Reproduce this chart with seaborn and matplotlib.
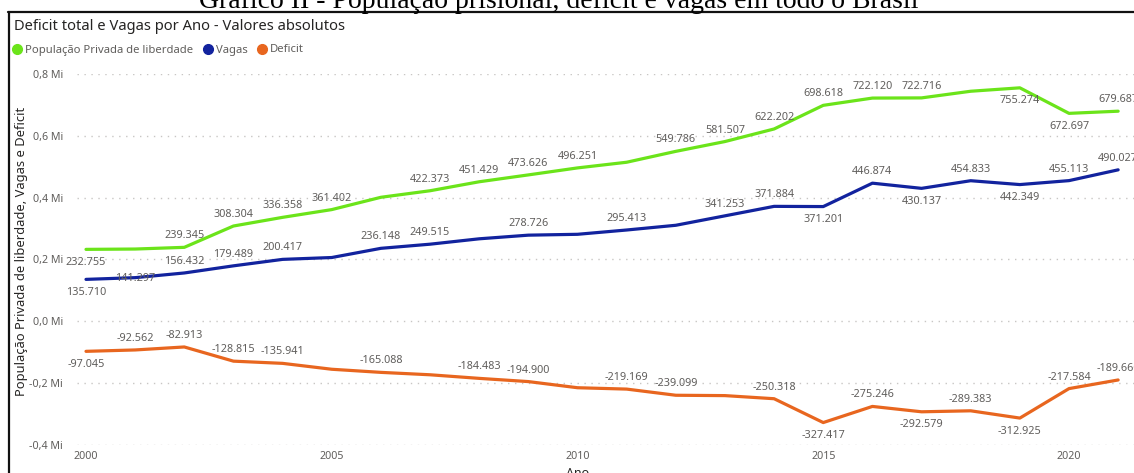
import matplotlib
matplotlib.use('Agg')
import pandas as pd
import matplotlib.pyplot as plt
from matplotlib.lines import Line2D
from matplotlib.ticker import FuncFormatter, MultipleLocator
import seaborn as sns

# valores (2000-2021)
anos = list(range(2000, 2022))
populacao = [232755, 233859, 239345, 308304, 336358, 361402, 401236, 422373,
             451429, 473626, 496251, 514582, 549786, 581507, 622202, 698618,
             722120, 722716, 744216, 755274, 672697, 679687]
vagas = [135710, 141297, 156432, 179489, 200417, 206400, 236148, 249515,
         266946, 278726, 281500, 295413, 310687, 341253, 371884, 371201,
         446874, 430137, 454833, 442349, 455113, 490027]
deficit = [-97045, -92562, -82913, -128815, -135941, -155002, -165088, -172858,
           -184483, -194900, -214751, -219169, -239099, -240254, -250318, -327417,
           -275246, -292579, -289383, -312925, -217584, -189660]

series_names = ['População Privada de liberdade', 'Vagas', 'Deficit']
cores = {'População Privada de liberdade': '#6BE41A',
         'Vagas': '#12239E',
         'Deficit': '#E8661F'}

# onde vai o rotulo: a = acima, b = abaixo, c = sobre, n = sem rotulo
rotulos = {
    'População Privada de liberdade':
        'b n a a a a n a a a a n a a a a a a n b b a'.split(),
    'Vagas':
        'b c a a a n a a n a n a n a a b a b a b a a'.split(),
    'Deficit':
        'b a a a a n a n a a n a a n a b a b a b a a'.split(),
}
offsets = {'a': 11.5, 'b': -13, 'c': -1}

df = pd.DataFrame({
    'Ano': anos * 3,
    'valor': populacao + vagas + deficit,
    'serie': sum([[s] * len(anos) for s in series_names], []),
})

sns.set_theme(style='white')
plt.rcParams['font.family'] = ['Noto Sans', 'DejaVu Sans']

W, H = 1134, 473
fig = plt.figure(figsize=(W / 100, H / 100), dpi=100)
ax = fig.add_axes([77 / W, 1 - 445 / H, 1 - 77 / W, (445 - 74) / H])

sns.lineplot(data=df, x='Ano', y='valor', hue='serie', palette=cores,
             hue_order=series_names, linewidth=2.3, legend=False, ax=ax)
for ln in ax.get_lines():
    ln.set_clip_on(False)
    ln.set_solid_joinstyle('round')

label_color = '#605E5C'
for s, vals in zip(series_names, [populacao, vagas, deficit]):
    for ano, v, pos in zip(anos, vals, rotulos[s]):
        if pos == 'n':
            continue
        txt = f'{v:,}'.replace(',', '.')
        ax.annotate(txt, (ano, v), xytext=(0, offsets[pos]),
                    textcoords='offset pixels', ha='center', va='center',
                    fontsize=7.8, color=label_color, annotation_clip=False)

ax.set_xlim(2000 - 9 / 49.15, 2000 + (W - 86) / 49.15)
ax.set_ylim(-400000, 800000)
ax.yaxis.set_major_locator(MultipleLocator(200000))
ax.xaxis.set_major_locator(MultipleLocator(5))
ax.yaxis.set_major_formatter(FuncFormatter(
    lambda v, p: f'{v / 1e6:.1f} Mi'.replace('.', ',')))
ax.xaxis.set_major_formatter(FuncFormatter(lambda v, p: f'{int(v)}'))
ax.tick_params(axis='both', length=0, labelsize=7.7, colors=label_color)
ax.tick_params(axis='y', pad=10)
ax.tick_params(axis='x', pad=4)
ax.grid(True, axis='y', linestyle=(0, (1, 4)), color='#C8C6C4', linewidth=1.0)
ax.grid(False, axis='x')
sns.despine(ax=ax, left=True, bottom=True)
ax.set_facecolor('none')

ax.set_xlabel('')
ax.set_ylabel('')
fig.text(578 / W, 1 - 467 / H, 'Ano', ha='center', va='top',
         fontsize=9, color='#252423')
fig.text(22 / W, 1 - 251 / H, 'População Privada de liberdade, Vagas e Deficit',
         rotation=90, ha='center', va='center', fontsize=9.3, color='#252423')

# titulo do documento (cortado no topo)
fig.text(559 / W, 1 - 8.5 / H,
         'Gráfico II - População prisional, deficit e vagas em todo o Brasil',
         ha='center', va='baseline', fontsize=20,
         family=['Liberation Serif', 'DejaVu Serif'], color='black')

# moldura do visual
fig.add_artist(Line2D([8 / W, 1], [1 - 12.5 / H, 1 - 12.5 / H],
                      transform=fig.transFigure, color='#111111', lw=1.6))
fig.add_artist(Line2D([8.5 / W, 8.5 / W], [0, 1 - 12.5 / H],
                      transform=fig.transFigure, color='#111111', lw=1.6))

fig.text(14 / W, 1 - 26 / H, 'Deficit total e Vagas por Ano - Valores absolutos',
         ha='left', va='center', fontsize=10.6, color='#252423')

handles = [Line2D([], [], marker='o', linestyle='none', markersize=7,
                  markerfacecolor=cores[s], markeredgecolor=cores[s])
           for s in series_names]
fig.legend(handles, series_names, loc='center left',
           bbox_to_anchor=(14 / W, 1 - 50 / H), ncol=3, frameon=False,
           handlelength=0.6, handletextpad=0.4, columnspacing=1.0,
           borderpad=0, borderaxespad=0, fontsize=8.1, labelcolor='#605E5C')

fig.savefig('out.png', dpi=100)
